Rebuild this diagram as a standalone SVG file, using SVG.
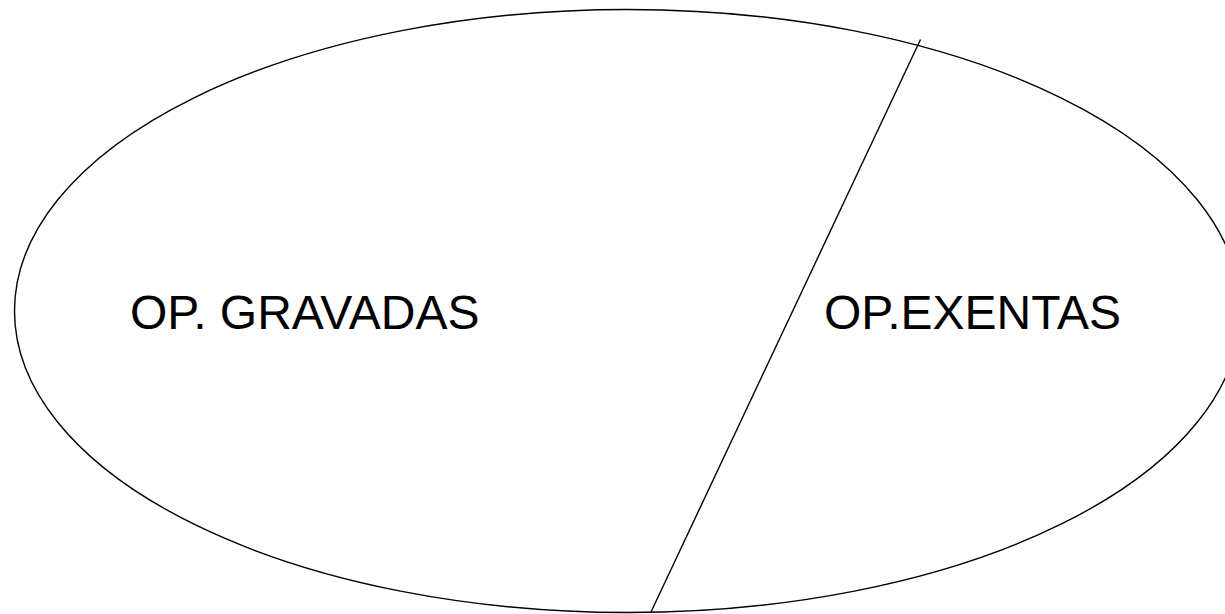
<svg xmlns="http://www.w3.org/2000/svg" width="1225" height="614" viewBox="0 0 1225 614">
<style>
.s{fill:none;stroke:#000;stroke-width:1.4}
.t{font-family:"Liberation Sans",Arial,sans-serif;font-size:48px;fill:#000}
</style>
<rect width="1225" height="614" fill="#fff"/>
<g id="ellipse"><ellipse class="s" cx="627.5" cy="311" rx="613" ry="301.5"/></g>
<g id="connectors"><line class="s" x1="920.5" y1="39.5" x2="651" y2="612"/></g>
<g id="gravadas"><text class="t" x="130" y="329">OP. GRAVADAS</text></g>
<g id="exentas"><text class="t" x="824" y="329">OP.EXENTAS</text></g>
</svg>
